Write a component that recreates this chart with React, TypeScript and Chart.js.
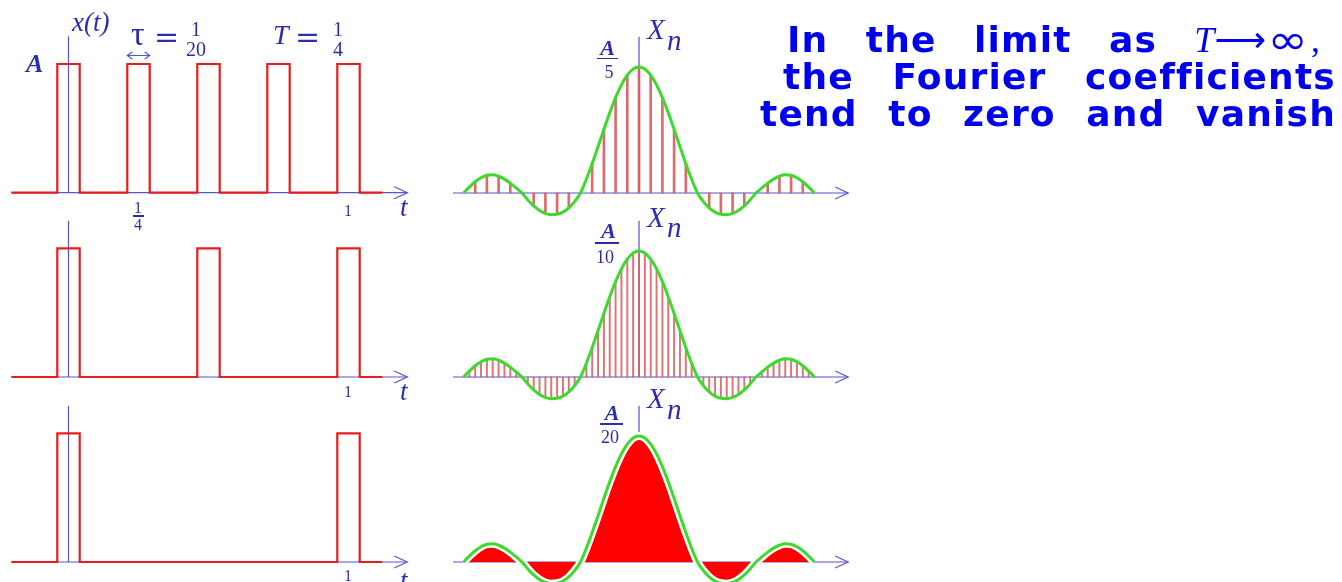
import React, { useEffect, useRef } from "react";
import { Chart, registerables } from "chart.js";

Chart.register(...registerables);

// ---------------- time-domain data (t in seconds, amplitude in units of A)
const pulseWidth = 0.08;
const pulseAmplitude = 1;
const signalSpan = [-0.204, 1.121];
const pulseStartsT4 = [-0.04, 0.21, 0.46, 0.71, 0.96]; // T = 1/4
const pulseStartsT2 = [-0.04, 0.46, 0.96]; // T = 1/2
const pulseStartsT1 = [-0.04, 0.96]; // T = 1

// ---------------- spectrum data (frequency in Hz, Xn normalised to its peak A·τ/T)
const freqHz = [
  -60, -58, -56, -54, -52, -50, -48, -46, -44, -42, -40, -38, -36, -34, -32, -30,
  -28, -26, -24, -22, -20, -18, -16, -14, -12, -10, -8, -6, -4, -2, 0,
  2, 4, 6, 8, 10, 12, 14, 16, 18, 20, 22, 24, 26, 28, 30,
  32, 34, 36, 38, 40, 42, 44, 46, 48, 50, 52, 54, 56, 58, 60,
];
const envelope = [
  0.0, 0.047, 0.089, 0.121, 0.141, 0.145, 0.133, 0.11, 0.078, 0.04, 0.0, -0.055, -0.103, -0.139, -0.162, -0.172,
  -0.169, -0.152, -0.118, -0.068, 0.0, 0.109, 0.234, 0.368, 0.505, 0.637, 0.757, 0.858, 0.935, 0.984, 1.0,
  0.984, 0.935, 0.858, 0.757, 0.637, 0.505, 0.368, 0.234, 0.109, 0.0, -0.068, -0.118, -0.152, -0.169, -0.172,
  -0.162, -0.139, -0.103, -0.055, 0.0, 0.04, 0.078, 0.11, 0.133, 0.145, 0.141, 0.121, 0.089, 0.047, 0.0,
];
// harmonics of T = 1/4 (every 4 Hz)
const harmonicsT4Hz = [
  -56, -52, -48, -44, -40, -36, -32, -28, -24, -20, -16, -12, -8, -4, 0,
  4, 8, 12, 16, 20, 24, 28, 32, 36, 40, 44, 48, 52, 56,
];
const coeffsT4 = [
  0.089, 0.141, 0.133, 0.078, 0.0, -0.103, -0.162, -0.169, -0.118, 0.0, 0.234, 0.505, 0.757, 0.935, 1.0,
  0.935, 0.757, 0.505, 0.234, 0.0, -0.118, -0.169, -0.162, -0.103, 0.0, 0.078, 0.133, 0.141, 0.089,
];
// harmonics of T = 1/2 fall on every 2 Hz: freqHz / envelope
// harmonics of T = 1 are dense (every 1 Hz): drawn as a solid area under envelope

// ---------------- layout (pixels)
const W = 1342;
const H = 582;
const tOriginPx = 68.5;
const tPxPerSec = 280;
const fOriginPx = 639;
const fPxPerHz = 2.925;
const leftBase = [192.7, 377, 562];
const leftUnit = 128.7;
const rightBase = [193, 377, 562];
const rightUnit = 126;
const leftAxisT = [-0.204, 1.21];
const leftAxisTop = 1.215;
const rightAxisF = [-63.6, 71.5];
const rightAxisTop = 1.24;

const RED = "rgb(232,28,28)";
const GREEN = "rgb(60,218,44)";
const AXIS = "rgb(84,84,214)";
const LABEL = "rgb(44,44,178)";
const BIG = "rgb(0,0,236)";

function pulsePoints(starts: number[]) {
  const pts: { x: number; y: number }[] = [{ x: signalSpan[0], y: 0 }];
  starts.forEach((s) => {
    pts.push({ x: s, y: 0 }, { x: s, y: pulseAmplitude }, { x: s + pulseWidth, y: pulseAmplitude }, { x: s + pulseWidth, y: 0 });
  });
  pts.push({ x: signalSpan[1], y: 0 });
  return pts;
}

function yRange(base: number, unit: number) {
  return { min: -(H - base) / unit, max: base / unit };
}

const axisPlugin = {
  id: "drawnAxes",
  beforeDatasetsDraw(chart: any) {
    const { ctx, scales } = chart;
    ctx.save();
    ctx.strokeStyle = AXIS;
    ctx.lineWidth = 1.2;
    const arrow = (x: number, y: number) => {
      ctx.beginPath();
      ctx.moveTo(x - 13, y - 6);
      ctx.lineTo(x, y);
      ctx.lineTo(x - 13, y + 6);
      ctx.stroke();
    };
    const drawAxes = (xs: any, ys: any, span: number[], top: number) => {
      const y0 = ys.getPixelForValue(0);
      const xa = xs.getPixelForValue(span[0]);
      const xb = xs.getPixelForValue(span[1]);
      const xo = xs.getPixelForValue(0);
      ctx.beginPath();
      ctx.moveTo(xa, y0);
      ctx.lineTo(xb, y0);
      ctx.moveTo(xo, y0);
      ctx.lineTo(xo, ys.getPixelForValue(top));
      ctx.stroke();
      arrow(xb, y0);
    };
    ["yL1", "yL2", "yL3"].forEach((id) => drawAxes(scales.xt, scales[id], leftAxisT, leftAxisTop));
    ["yR1", "yR2", "yR3"].forEach((id) => drawAxes(scales.xf, scales[id], rightAxisF, rightAxisTop));
    ctx.restore();
  },
  afterDatasetsDraw(chart: any) {
    // τ width marker over the second pulse
    const { ctx, scales } = chart;
    const s = pulseStartsT4[1];
    const xa = scales.xt.getPixelForValue(s);
    const xb = scales.xt.getPixelForValue(s + pulseWidth);
    const y = scales.yL1.getPixelForValue(1.066);
    ctx.save();
    ctx.strokeStyle = AXIS;
    ctx.lineWidth = 1.2;
    ctx.beginPath();
    ctx.moveTo(xa, y);
    ctx.lineTo(xb, y);
    ctx.moveTo(xa + 5, y - 3.5);
    ctx.lineTo(xa, y);
    ctx.lineTo(xa + 5, y + 3.5);
    ctx.moveTo(xb - 5, y - 3.5);
    ctx.lineTo(xb, y);
    ctx.lineTo(xb - 5, y + 3.5);
    ctx.stroke();
    ctx.restore();
  },
};

const SERIF = '"Liberation Serif", "DejaVu Serif", serif';

function T({ x, b, size, children, italic, center, family, color, weight }: any) {
  const style: React.CSSProperties = {
    position: "absolute",
    left: x,
    top: b - 0.84 * size,
    fontSize: size,
    lineHeight: `${size}px`,
    fontFamily: family || SERIF,
    fontStyle: italic ? "italic" : "normal",
    fontWeight: weight || 400,
    color: color || LABEL,
    whiteSpace: "nowrap",
    transform: center ? "translateX(-50%)" : undefined,
  };
  return <span style={style}>{children}</span>;
}

function Bar({ x1, x2, y }: any) {
  return (
    <div style={{ position: "absolute", left: x1, top: y - 0.6, width: x2 - x1, height: 1.2, background: LABEL }} />
  );
}

const BIG_SIZE = 36;

function BigLine({ left, width, b, words }: any) {
  return (
    <div
      style={{
        position: "absolute",
        left,
        width,
        top: b - 0.846 * BIG_SIZE,
        height: 44,
        lineHeight: `${BIG_SIZE}px`,
        fontSize: BIG_SIZE,
        fontFamily: '"DejaVu Sans", sans-serif',
        fontWeight: 700,
        color: BIG,
        display: "flex",
        justifyContent: "space-between",
        whiteSpace: "nowrap",
        letterSpacing: 1.2,
      }}
    >
      {words.map((w: any, i: number) => (
        <span key={i}>{w}</span>
      ))}
    </div>
  );
}

export default function App() {
  const ref = useRef<HTMLCanvasElement>(null);

  useEffect(() => {
    if (!ref.current) return;
    const envPts = freqHz.map((f, i) => ({ x: f, y: envelope[i] }));
    const stemsT4 = harmonicsT4Hz.map((f, i) => ({ x: f, y: coeffsT4[i] }));
    const envLine = (yAxisID: string) => ({
      type: "line",
      data: envPts,
      xAxisID: "xf",
      yAxisID,
      borderColor: GREEN,
      borderWidth: 3,
      pointRadius: 0,
      cubicInterpolationMode: "monotone",
      fill: false,
      order: 0,
    });
    const pulses = (starts: number[], yAxisID: string) => ({
      type: "line",
      data: pulsePoints(starts),
      xAxisID: "xt",
      yAxisID,
      borderColor: RED,
      borderWidth: 2.2,
      pointRadius: 0,
      tension: 0,
      fill: false,
      order: 0,
    });
    const scales: any = {
      xt: { type: "linear", display: false, offset: false, min: -tOriginPx / tPxPerSec, max: (W - tOriginPx) / tPxPerSec },
      xf: { type: "linear", display: false, offset: false, min: -fOriginPx / fPxPerHz, max: (W - fOriginPx) / fPxPerHz },
    };
    leftBase.forEach((b, i) => (scales[`yL${i + 1}`] = { type: "linear", display: false, ...yRange(b, leftUnit) }));
    rightBase.forEach((b, i) => (scales[`yR${i + 1}`] = { type: "linear", display: false, ...yRange(b, rightUnit) }));

    const chart = new Chart(ref.current, {
      type: "line",
      data: {
        datasets: [
          pulses(pulseStartsT4, "yL1"),
          pulses(pulseStartsT2, "yL2"),
          pulses(pulseStartsT1, "yL3"),
          envLine("yR1"),
          envLine("yR2"),
          envLine("yR3"),
          {
            type: "line",
            data: envPts,
            xAxisID: "xf",
            yAxisID: "yR3",
            borderColor: "#ffffff",
            borderWidth: 8,
            pointRadius: 0,
            cubicInterpolationMode: "monotone",
            fill: false,
            order: 1,
          },
          {
            type: "line",
            data: envPts,
            xAxisID: "xf",
            yAxisID: "yR3",
            borderWidth: 0,
            borderColor: "rgba(0,0,0,0)",
            backgroundColor: "rgb(255,0,0)",
            pointRadius: 0,
            cubicInterpolationMode: "monotone",
            fill: "origin",
            order: 2,
          },
          {
            type: "bar",
            data: stemsT4,
            xAxisID: "xf",
            yAxisID: "yR1",
            backgroundColor: "rgba(218,90,90,0.9)",
            barThickness: 2,
            grouped: false,
            order: 3,
          },
          {
            type: "bar",
            data: envPts,
            xAxisID: "xf",
            yAxisID: "yR2",
            backgroundColor: "rgba(218,90,90,0.85)",
            barThickness: 1.3,
            grouped: false,
            order: 3,
          },
        ] as any,
      },
      options: {
        responsive: false,
        animation: false,
        events: [],
        layout: { padding: 0 },
        plugins: { legend: { display: false }, tooltip: { enabled: false }, title: { display: false } },
        scales,
      } as any,
      plugins: [axisPlugin],
    });
    return () => chart.destroy();
  }, []);

  return (
    <div style={{ position: "absolute", left: 0, top: 0, width: W, height: H, overflow: "hidden", background: "#fff" }}>
      <canvas ref={ref} width={W} height={H} style={{ position: "absolute", left: 0, top: 0, width: W, height: H }} />

      {/* left panel 1 labels */}
      <T x={72} b={32} size={27} italic>x(t)</T>
      <T x={26} b={73} size={26} italic weight={700}>A</T>
      <T x={131} b={46} size={34}>τ</T>
      <T x={154} b={47} size={30} family='"DejaVu Serif", serif'>=</T>
      <T x={196} b={36} size={20} center>1</T>
      <T x={196} b={56} size={20} center>20</T>
      <T x={273} b={45} size={28} italic>T</T>
      <T x={295} b={47} size={30} family='"DejaVu Serif", serif'>=</T>
      <T x={338} b={36} size={20} center>1</T>
      <T x={338} b={56} size={20} center>4</T>
      <T x={138} b={213} size={16} center>1</T>
      <Bar x1={133} x2={144} y={216} />
      <T x={138} b={230} size={16} center>4</T>
      <T x={348} b={216} size={16} center>1</T>
      <T x={400} b={217} size={27} italic>t</T>

      {/* left panel 2 / 3 labels */}
      <T x={348} b={397} size={16} center>1</T>
      <T x={400} b={401} size={27} italic>t</T>
      <T x={348} b={581} size={16} center>1</T>
      <T x={400} b={590} size={27} italic>t</T>

      {/* right panel 1 */}
      <T x={607.5} b={55} size={22} italic center weight={600}>A</T>
      <Bar x1={597} x2={618} y={58.5} />
      <T x={609} b={78} size={18} center>5</T>
      <T x={647} b={39} size={29} italic>X</T>
      <T x={667} b={50} size={29} italic>n</T>

      {/* right panel 2 */}
      <T x={608.5} b={238} size={22} italic center weight={600}>A</T>
      <Bar x1={595} x2={619} y={243} />
      <T x={605} b={263} size={18} center>10</T>
      <T x={647} b={227} size={29} italic>X</T>
      <T x={667} b={237} size={29} italic>n</T>

      {/* right panel 3 */}
      <T x={612} b={420} size={22} italic center weight={600}>A</T>
      <Bar x1={600} x2={623} y={424} />
      <T x={610} b={443} size={18} center>20</T>
      <T x={647} b={408} size={29} italic>X</T>
      <T x={667} b={419} size={29} italic>n</T>

      {/* statement */}
      <BigLine
        left={787}
        width={533}
        b={52}
        words={[
          "In",
          "the",
          "limit",
          "as",
          <span key="m" style={{ letterSpacing: 0 }}>
            <span style={{ fontFamily: SERIF, fontStyle: "italic", fontWeight: 400 }}>T</span>
            <span style={{ fontWeight: 400 }}>⟶</span>
            <span style={{ fontWeight: 400, display: "inline-block", transform: "scale(1.35, 1.15)", margin: "0 8px 0 7px" }}>∞</span>
            <span style={{ fontFamily: SERIF, fontWeight: 400 }}>,</span>
          </span>,
        ]}
      />
      <BigLine left={783} width={553} b={89} words={["the", "Fourier", "coefficients"]} />
      <BigLine left={760} width={576} b={126} words={["tend", "to", "zero", "and", "vanish"]} />
    </div>
  );
}
